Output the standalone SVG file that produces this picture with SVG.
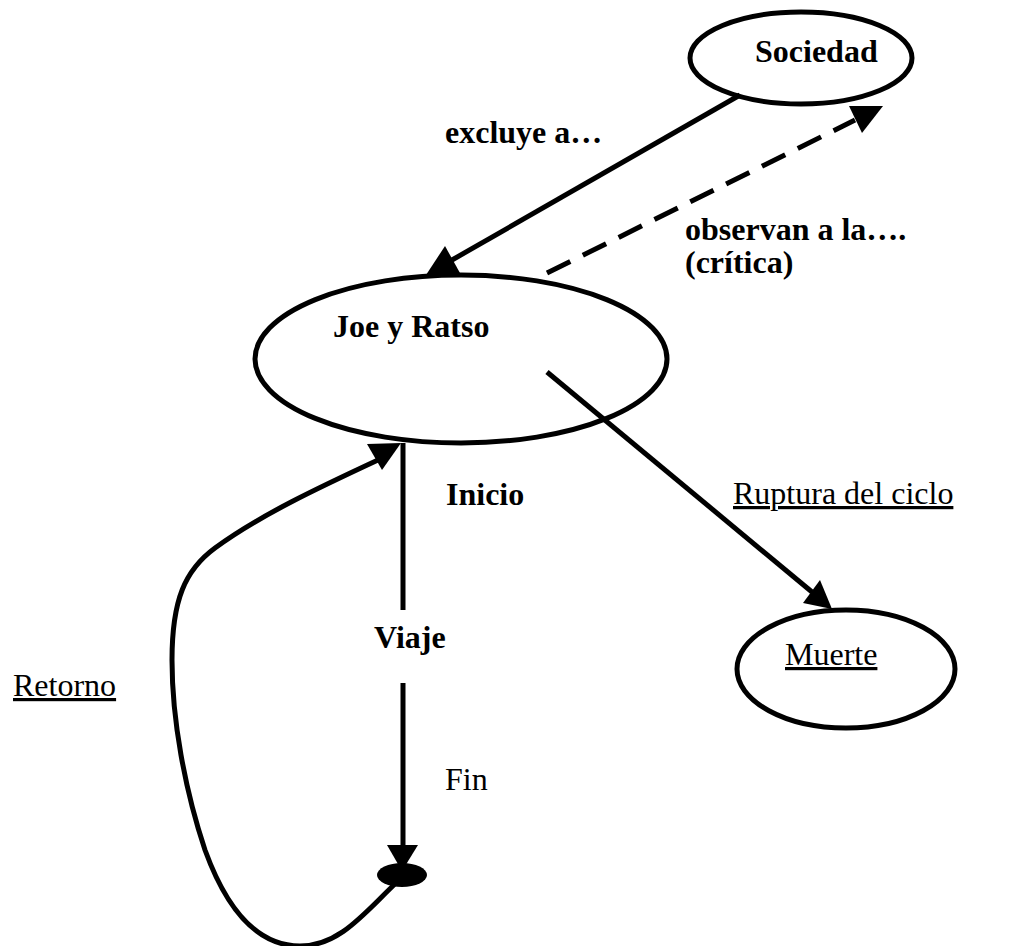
<svg xmlns="http://www.w3.org/2000/svg" width="1020" height="946" viewBox="0 0 1020 946">
<style>
.node{fill:none;stroke:#000;stroke-width:5}
.ln{fill:none;stroke:#000;stroke-width:5}
.ah{fill:#000;stroke:none}
.b{font-family:"Liberation Serif","Times New Roman",serif;font-size:32px;font-weight:bold;fill:#000}
.r{font-family:"Liberation Serif","Times New Roman",serif;font-size:32px;fill:#000}
.u{text-decoration:underline}
</style>
<rect width="1020" height="946" fill="#fff"/>
<g id="connectors">
<line class="ln" x1="740" y1="95" x2="452" y2="260"/>
<polygon class="ah" points="426,275 445,246 460,273"/>
<line class="ln" x1="547" y1="273" x2="855" y2="120" stroke-dasharray="26 14"/>
<polygon class="ah" points="883,106 849,106 862,133"/>
<line class="ln" x1="547" y1="372" x2="812" y2="592"/>
<polygon class="ah" points="832,609 820,580 803,603"/>
<line class="ln" x1="403" y1="443" x2="403" y2="610" stroke-width="6"/>
<line class="ln" x1="403" y1="683" x2="403" y2="848" stroke-width="6"/>
<polygon class="ah" points="402,871 387,845 418,845"/>
<path class="ln" d="M397,882 C365,912 340,946 300,946 C255,946 225,905 205,850 C185,790 172,720 172,660 C172,600 185,570 215,548 C260,515 320,487 378,460"/>
<polygon class="ah" points="401,443 367,444 382,470"/>
</g>
<g id="sociedad">
<ellipse class="node" cx="801" cy="58" rx="111" ry="46"/>
<text class="b" x="755" y="62">Sociedad</text>
</g>
<g id="joe">
<ellipse class="node" cx="461" cy="359" rx="206" ry="84"/>
<text class="b" x="333" y="337">Joe y Ratso</text>
</g>
<g id="muerte">
<ellipse class="node" cx="846" cy="669" rx="109" ry="59"/>
<text class="r u" x="785" y="665">Muerte</text>
</g>
<g id="fin-node">
<ellipse cx="402" cy="875" rx="25" ry="12" fill="#000"/>
</g>
<g id="labels">
<text class="b" x="445" y="143">excluye a…</text>
<text class="b" x="685" y="240">observan a la….</text>
<text class="b" x="685" y="273">(crítica)</text>
<text class="b" x="446" y="505">Inicio</text>
<text class="b" x="374" y="648">Viaje</text>
<text class="r" x="445" y="790">Fin</text>
<text class="r u" x="733" y="504">Ruptura del ciclo</text>
<text class="r u" x="13" y="696">Retorno</text>
</g>
</svg>
